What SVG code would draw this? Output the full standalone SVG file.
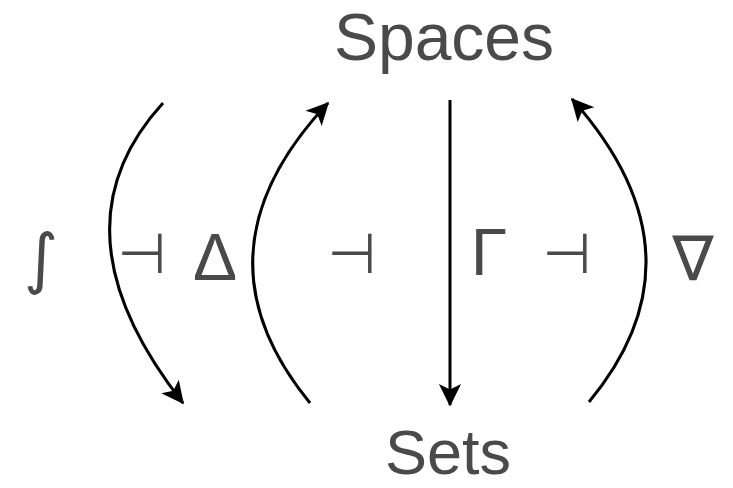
<svg xmlns="http://www.w3.org/2000/svg" width="733" height="488" viewBox="0 0 733 488">
<style>
.lbl{font-family:"Liberation Sans",Arial,sans-serif;fill:#4a4a4a;text-anchor:middle}
.sym{font-family:"DejaVu Sans","Liberation Sans",sans-serif;fill:#4a4a4a;text-anchor:middle}
.ar{fill:none;stroke:#000;stroke-width:3}
</style>
<defs>
<marker id="ah" markerWidth="8" markerHeight="8" refX="7" refY="4" orient="auto" markerUnits="strokeWidth" viewBox="0 0 8 8">
<path d="M0,0.3 L7.5,4 L0,7.7 L1.8,4 Z" fill="#000"/>
</marker>
</defs>
<rect width="733" height="488" fill="#fff"/>
<g id="spaces"><text class="lbl" x="444" y="60" font-size="66">Spaces</text></g>
<g id="sets"><text class="lbl" x="448" y="474" font-size="63">Sets</text></g>
<g id="connectors">
<path class="ar" d="M163,103 Q47,230 183,403" marker-end="url(#ah)"/>
<path class="ar" d="M310,403 Q187,253 328,103" marker-end="url(#ah)"/>
<path class="ar" d="M450,100 L450,405" marker-end="url(#ah)"/>
<path class="ar" d="M589,402 Q711,255 572,99" marker-end="url(#ah)"/>
</g>
<g id="labels">
<text class="sym" x="41" y="281" font-size="66">∫</text>
<text class="sym" x="142" y="273" font-size="56">⊣</text>
<text class="lbl" x="215" y="280" font-size="66">Δ</text>
<text class="sym" x="352" y="273" font-size="56">⊣</text>
<text class="lbl" x="489" y="275" font-size="66">Γ</text>
<text class="sym" x="567" y="273" font-size="56">⊣</text>
<text class="sym" x="693" y="280" font-size="62">∇</text>
</g>
</svg>
